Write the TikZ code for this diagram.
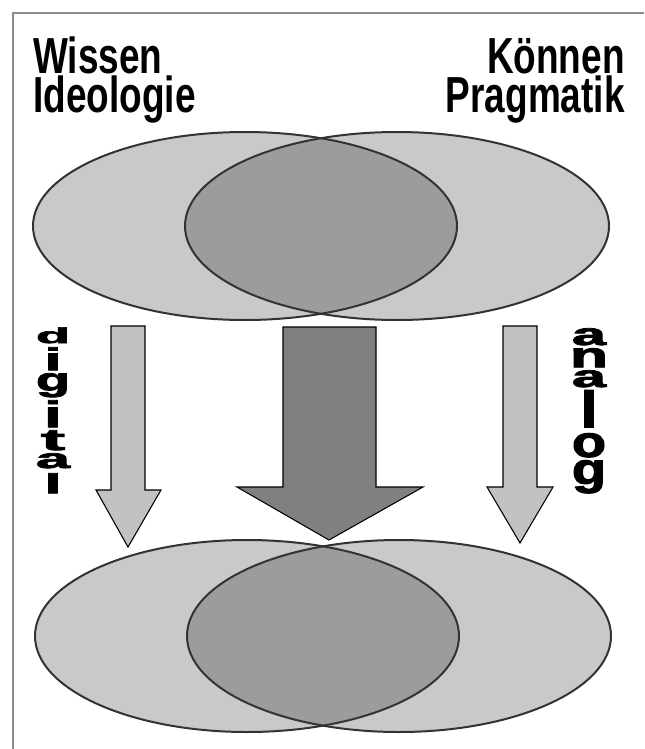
\documentclass[tikz,border=0pt]{standalone}
\usepackage{fontspec}
\usepackage{graphicx}
\setmainfont{Liberation Sans}
\newfontfamily\titlefont[FakeStretch=0.73]{Liberation Sans}
\newfontfamily\letfont[BoldFeatures={FakeBold=2.5}]{Liberation Sans}
\newdimen\pxu \pxu=0.75pt
\newcommand\vl[3]{\resizebox*{#1\pxu}{#2\pxu}{\letfont\bfseries #3}}
\definecolor{ellfill}{gray}{0.79}
\definecolor{lensfill}{gray}{0.61}
\definecolor{bigfill}{gray}{0.5}
\definecolor{smallfill}{gray}{0.76}
\definecolor{outline}{gray}{0.2}
\definecolor{framecol}{gray}{0.55}
\tikzset{
  ellline/.style={draw=outline, line width=1.5pt},
  arrowline/.style={draw=black, line width=0.8pt, line join=miter},
  title/.style={inner sep=0pt, font=\titlefont\bfseries\fontsize{38pt}{40pt}\selectfont},
  letter/.style={inner sep=0pt, anchor=north}
}
\begin{document}
\begin{tikzpicture}[x=0.75pt, y=-0.75pt]
\useasboundingbox (0,0) rectangle (644,749);
% frame
\draw[framecol, line width=1.5pt] (13,749) -- (13,13) -- (644,13);
% titles
\node[title, anchor=base west] (wissen) at (33,74) {Wissen};
\node[title, anchor=base west] (ideo) at (33,112) {Ideologie};
\node[title, anchor=base east] (koennen) at (625,74) {Können};
\node[title, anchor=base east] (prag) at (625,112) {Pragmatik};
% top ellipses
\fill[ellfill] (245,226) ellipse [x radius=212, y radius=94];
\fill[ellfill] (397,226) ellipse [x radius=212, y radius=94];
\begin{scope}
  \clip (245,226) ellipse [x radius=212, y radius=94];
  \fill[lensfill] (397,226) ellipse [x radius=212, y radius=94];
\end{scope}
\draw[ellline] (245,226) ellipse [x radius=212, y radius=94];
\draw[ellline] (397,226) ellipse [x radius=212, y radius=94];
% bottom ellipses
\fill[ellfill] (247,636) ellipse [x radius=212, y radius=96];
\fill[ellfill] (399,636) ellipse [x radius=212, y radius=96];
\begin{scope}
  \clip (247,636) ellipse [x radius=212, y radius=96];
  \fill[lensfill] (399,636) ellipse [x radius=212, y radius=96];
\end{scope}
\draw[ellline] (247,636) ellipse [x radius=212, y radius=96];
\draw[ellline] (399,636) ellipse [x radius=212, y radius=96];
% arrows
\draw[arrowline, fill=smallfill] (111,326) -- (145,326) -- (145,490) -- (161,490) -- (128,547) -- (96,490) -- (111,490) -- cycle;
\draw[arrowline, fill=bigfill] (283,327) -- (376,327) -- (376,487) -- (423,487) -- (329,540) -- (237,487) -- (283,487) -- cycle;
\draw[arrowline, fill=smallfill] (503,326) -- (537,326) -- (537,487) -- (553,487) -- (520,543) -- (487,487) -- (503,487) -- cycle;
% digital
\node[letter] (d1) at (53,327) {\vl{34}{16}{d}};
\node[letter] (d2) at (53,347) {\vl{17}{23}{i}};
\node[letter] (d3) at (53,373) {\vl{34}{24}{g}};
\node[letter] (d4) at (53,400) {\vl{17}{27}{i}};
\node[letter] (d5) at (53,430) {\vl{24}{20}{t}};
\node[letter] (d6) at (53,453) {\vl{34}{15}{a}};
\node[letter] (d7) at (53,473) {\vl{17}{20}{l}};
% analog
\node[letter] (a1) at (589,328) {\vl{34}{17}{a}};
\node[letter] (a2) at (589,348) {\vl{38}{19}{n}};
\node[letter] (a3) at (589,370) {\vl{34}{17}{a}};
\node[letter] (a4) at (589,390) {\vl{17}{37}{l}};
\node[letter] (a5) at (589,433) {\vl{34}{24}{o}};
\node[letter] (a6) at (589,460) {\vl{34}{33}{g}};
\end{tikzpicture}
\end{document}
